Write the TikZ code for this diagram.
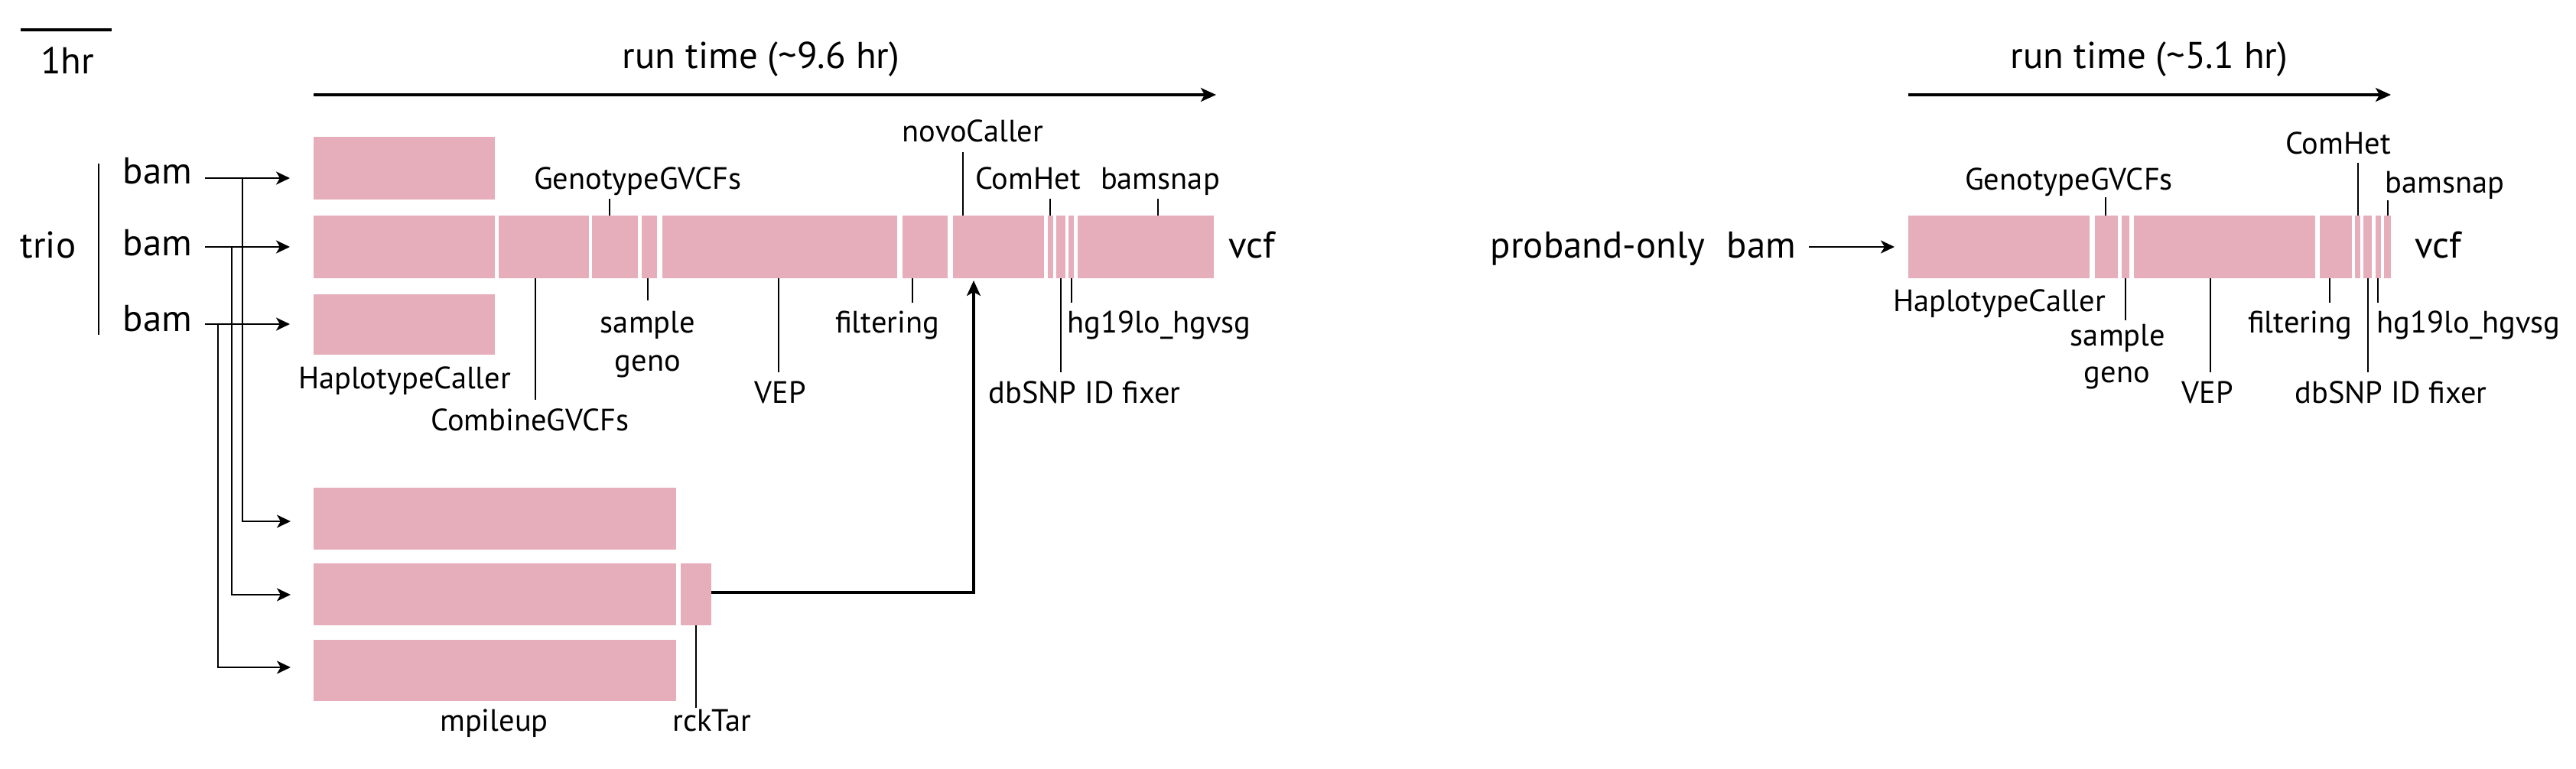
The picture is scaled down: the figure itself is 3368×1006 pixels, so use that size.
\documentclass[tikz,border=0pt]{standalone}
\usepackage{fontspec}
\setmainfont{PT Sans}
\usetikzlibrary{arrows.meta}
\definecolor{pinkc}{RGB}{230,173,187}
\newcommand\mkseg[5]{\node[seg,minimum width={(#3-#2)*0.01cm},minimum height={(#5-#4)*0.01cm}] (#1) at ({(#2+#3)/2},{(#4+#5)/2}) {};}
\newcommand\leadto[3]{\coordinate (#1) at (#2); \draw[lead] (#1) -- (#1 |- #3);}
\begin{document}
\begin{tikzpicture}[x=0.01cm,y=-0.01cm,
 seg/.style={fill=pinkc,draw=none,inner sep=0,outer sep=0,rectangle},
 big/.style={font=\fontsize{13.9}{16}\selectfont,inner sep=0,anchor=base},
 lab/.style={font=\fontsize{11.5}{14}\selectfont,inner sep=0,anchor=base},
 labw/.style={lab,anchor=base west},
 lead/.style={line width=0.65pt},
 arr/.style={line width=0.75pt,-{Stealth[length=0.18cm,width=0.17cm,inset=0.05cm]}},
 tarr/.style={line width=0.9pt,-{Stealth[length=0.2cm,width=0.18cm,inset=0.05cm]}},
]
\useasboundingbox (0,0) rectangle (3368,1006);

% ---------- scale ----------
\coordinate (sb1) at (27,39); \coordinate (sb2) at (146,39);
\draw[line width=0.9pt] (sb1) -- (sb2);
\node[big] (onehr) at (88,96) {1hr};

% ---------- left panel: trio ----------
\node[big] (rt1) at (995,90) {run time (\textasciitilde9.6 hr)};
\coordinate (ta1) at (410,124); \coordinate (ta2) at (1590,124);
\draw[tarr] (ta1) -- (ta2);

\node[big] (trio) at (63,337) {trio};
\coordinate (tv1) at (129,214); \coordinate (tv2) at (129,438);
\draw[lead] (tv1) -- (tv2);
\node[big] (bam1) at (206,240) {bam};
\node[big] (bam2) at (206,334) {bam};
\node[big] (bam3) at (206,433) {bam};

% bars
\mkseg{hcA}{410}{647}{179}{261}
\mkseg{hcB}{410}{647}{282}{364}
\mkseg{hcC}{410}{647}{385}{464}
\mkseg{cg}{652}{770}{282}{364}
\mkseg{gg}{774}{834}{282}{364}
\mkseg{sg}{839}{859}{282}{364}
\mkseg{vep}{866}{1173}{282}{364}
\mkseg{filt}{1180}{1239}{282}{364}
\mkseg{novo}{1246}{1365}{282}{364}
\mkseg{chet}{1370}{1377}{282}{364}
\mkseg{dbsnp}{1381}{1393}{282}{364}
\mkseg{hg}{1397}{1404}{282}{364}
\mkseg{bsnap}{1409}{1587}{282}{364}

\mkseg{mpA}{410}{884}{638}{719}
\mkseg{mpB}{410}{884}{737}{818}
\mkseg{mpC}{410}{884}{837}{917}
\mkseg{rck}{890}{930}{737}{818}

% input arrows
\coordinate (s1) at (268,233); \coordinate (s2) at (268,323); \coordinate (s3) at (268,424);
\draw[arr,shorten >=0.31cm] (s1) -- (s1 -| hcA.west);
\draw[arr,shorten >=0.31cm] (s2) -- (s2 -| hcB.west);
\draw[arr,shorten >=0.31cm] (s3) -- (s3 -| hcC.west);
\coordinate (j1) at (317,233); \coordinate (j2) at (303,323); \coordinate (j3) at (285,424);
\coordinate (e1) at (317,682); \coordinate (e2) at (303,778); \coordinate (e3) at (285,873);
\draw[arr,shorten >=0.30cm] (j1) -- (e1) -- (e1 -| mpA.west);
\draw[arr,shorten >=0.30cm] (j2) -- (e2) -- (e2 -| mpB.west);
\draw[arr,shorten >=0.30cm] (j3) -- (e3) -- (e3 -| mpC.west);

% rckTar -> novoCaller
\coordinate (rk1) at (930,775); \coordinate (nin) at (1273,367);
\draw[tarr] (rk1) -| (nin);

% labels left
\node[lab] (lHC) at (529,508) {HaplotypeCaller};
\node[lab] (lCG) at (693,563) {CombineGVCFs};
\node[lab] (lGG) at (834,247) {GenotypeGVCFs};
\node[lab] (lS1) at (847,435) {sample};
\node[lab] (lS2) at (847,485) {geno};
\node[lab] (lVEP) at (1020,527) {VEP};
\node[lab] (lF) at (1160,435) {filtering};
\node[lab] (lNovo) at (1272,185) {novoCaller};
\node[lab] (lCH) at (1344,247) {ComHet};
\node[lab] (lBS) at (1517,247) {bamsnap};
\node[labw] (lHG) at (1395,435) {hg19lo\_hgvsg};
\node[lab] (lDB) at (1418,527) {dbSNP ID fixer};
\node[big] (vcf1) at (1637,337) {vcf};
\node[lab] (lMP) at (646,956) {mpileup};
\node[lab] (lRK) at (931,956) {rckTar};

% leaders left
\leadto{kGG}{797,260}{gg.north}
\leadto{kCG}{700,523}{cg.south}
\leadto{kS}{847,393}{sg.south}
\leadto{kVEP}{1018,487}{vep.south}
\leadto{kF}{1193,396}{filt.south}
\leadto{kN}{1259,199}{novo.north}
\leadto{kCH}{1373,260}{chet.north}
\leadto{kBS}{1514,260}{bsnap.north}
\leadto{kHG}{1401,396}{hg.south}
\leadto{kDB}{1387,487}{dbsnp.south}
\leadto{kRK}{910,926}{rck.south}

% ---------- right panel: proband-only ----------
\node[big] (rt2) at (2810,90) {run time (\textasciitilde5.1 hr)};
\coordinate (tb1) at (2495,124); \coordinate (tb2) at (3126,124);
\draw[tarr] (tb1) -- (tb2);

\node[big] (pro) at (2089,337) {proband-only};
\node[big] (bamR) at (2303,337) {bam};
\coordinate (pa1) at (2365,323); \coordinate (pa2) at (2477,323);
\draw[arr] (pa1) -- (pa2);

\mkseg{rhc}{2495}{2732}{282}{364}
\mkseg{rgg}{2739}{2769}{282}{364}
\mkseg{rsg}{2774}{2784}{282}{364}
\mkseg{rvep}{2790}{3027}{282}{364}
\mkseg{rfilt}{3033}{3075}{282}{364}
\mkseg{rchet}{3079}{3086}{282}{364}
\mkseg{rdb}{3090}{3101}{282}{364}
\mkseg{rhg}{3106}{3113}{282}{364}
\mkseg{rbs}{3117}{3126}{282}{364}

\node[lab] (rlHC) at (2614,407) {HaplotypeCaller};
\node[lab] (rlGG) at (2705,248) {GenotypeGVCFs};
\node[lab] (rlS1) at (2769,452) {sample};
\node[lab] (rlS2) at (2768,500) {geno};
\node[lab] (rlVEP) at (2886,527) {VEP};
\node[lab] (rlF) at (3007,435) {filtering};
\node[lab] (rlCH) at (3057,201) {ComHet};
\node[labw] (rlBS) at (3118,252) {bamsnap};
\node[lab] (rlDB) at (3126,527) {dbSNP ID fixer};
\node[labw] (rlHG) at (3107,435) {hg19lo\_hgvsg};
\node[big] (vcf2) at (3188,337) {vcf};

\leadto{rkGG}{2753,258}{rgg.north}
\leadto{rkS}{2779,419}{rsg.south}
\leadto{rkVEP}{2890,487}{rvep.south}
\leadto{rkF}{3046,396}{rfilt.south}
\leadto{rkCH}{3083,213}{rchet.north}
\leadto{rkBS}{3122,262}{rbs.north}
\leadto{rkDB}{3096,487}{rdb.south}
\leadto{rkHG}{3109,396}{rhg.south}
\end{tikzpicture}
\end{document}
